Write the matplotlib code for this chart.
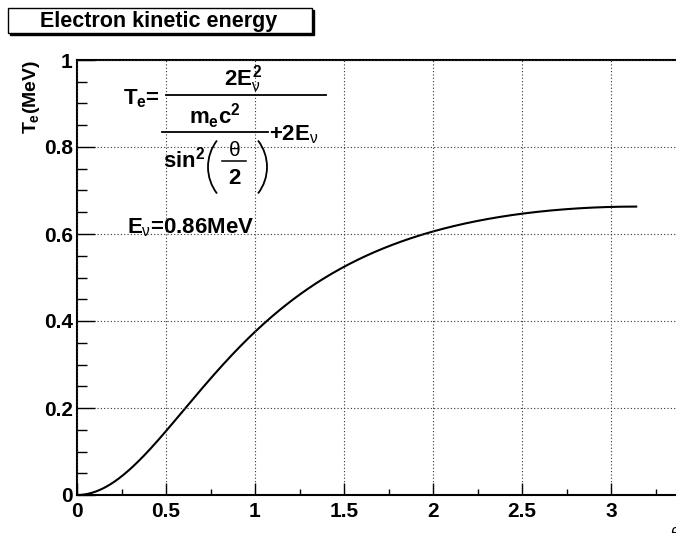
import numpy as np
import matplotlib
matplotlib.use("Agg")
import matplotlib.pyplot as plt
from matplotlib.patches import Rectangle, Arc
from matplotlib.lines import Line2D
from matplotlib.transforms import Affine2D

# Parameters of the curve T_e(theta) for neutrino-electron scattering
E_nu = 0.86          # neutrino energy, MeV
me_c2 = 0.511        # electron rest energy, MeV
theta = np.linspace(0.0, np.pi, 600)
T_e = 2 * E_nu**2 / (me_c2 / np.sin(theta / 2) ** 2 + 2 * E_nu)

x_ticks = [0, 0.5, 1, 1.5, 2, 2.5, 3]
x_tick_labels = ["0", "0.5", "1", "1.5", "2", "2.5", "3"]
y_ticks = [0, 0.2, 0.4, 0.6, 0.8, 1]
y_tick_labels = ["0", "0.2", "0.4", "0.6", "0.8", "1"]

title_text = "Electron kinetic energy"
energy_text = r"$E_{\mathsf{\nu}}$=0.86MeV"

W, H = 676, 533
plt.rcParams["font.family"] = ["Liberation Sans", "DejaVu Sans"]
plt.rcParams["font.weight"] = "bold"
plt.rcParams["mathtext.fontset"] = "custom"
plt.rcParams["mathtext.rm"] = "Liberation Sans:bold"
plt.rcParams["mathtext.it"] = "Liberation Sans:bold"
plt.rcParams["mathtext.bf"] = "Liberation Sans:bold"
plt.rcParams["mathtext.sf"] = "Liberation Sans:normal"

fig = plt.figure(figsize=(W / 100, H / 100), dpi=100)
fig.patch.set_facecolor("white")

# pixel coordinates with origin at the top-left corner
px = Affine2D().scale(1, -1).translate(0, H).scale(1 / W, 1 / H) + fig.transFigure

x0, y0, y1 = 77, 495, 60
ax = fig.add_axes([x0 / W, (H - y0) / H, 1 - x0 / W, (y0 - y1) / H])
xmax = (W - x0) / 178.0
ax.set_xlim(0, xmax)
ax.set_ylim(0, 1)

ax.plot(theta, T_e, color="black", lw=1.5)

ax.set_xticks(x_ticks)
ax.set_xticklabels(x_tick_labels)
ax.set_yticks(y_ticks)
ax.set_yticklabels(y_tick_labels)
ax.set_xticks(np.arange(0.25, xmax, 0.5), minor=True)
ax.set_yticks(np.arange(0.05, 1.0, 0.05), minor=True)

ax.tick_params(axis="both", which="both", direction="in", colors="black",
               labelsize=15)
ax.tick_params(axis="x", which="major", length=9, width=1, pad=5)
ax.tick_params(axis="x", which="minor", length=4.5, width=1)
ax.tick_params(axis="y", which="major", length=13, width=1, pad=3)
ax.tick_params(axis="y", which="minor", length=7, width=1)
for lab in ax.get_xticklabels() + ax.get_yticklabels():
    lab.set_fontweight("bold")

for s in ["left", "bottom", "top"]:
    ax.spines[s].set_linewidth(1.5)
ax.spines["right"].set_visible(False)

ax.grid(True, which="major", color="#333333", linestyle=(0, (1, 2)), lw=0.8)
ax.set_axisbelow(False)

ax.set_ylabel(r"$T_e$(MeV)", fontsize=14, fontweight="bold")
ax.yaxis.set_label_coords(-0.058, 1.0)
ax.yaxis.label.set_horizontalalignment("right")

# x-axis title at the lower-right corner, mostly outside the canvas
fig.text(670 / W, 1 - 534 / H, r"$\mathsf{\theta}$", fontsize=12, va="center")

# title box with drop shadow
fig.add_artist(Rectangle((10, 10), 304, 25, transform=px, facecolor="black",
                         edgecolor="black", lw=1))
fig.add_artist(Rectangle((8, 8), 304, 25, transform=px, facecolor="white",
                         edgecolor="black", lw=1))
fig.text(159 / W, 1 - 21 / H, title_text, fontsize=15.5, fontweight="bold",
         ha="center", va="center")

# formula: T_e = 2E^2 / (m_e c^2 / sin^2(theta/2) + 2E)
FS = 16

def ptext(x, y, s, size=FS, ha="center", va="center", **kw):
    fig.text(x / W, 1 - y / H, s, fontsize=size, ha=ha, va=va,
             fontweight="bold", **kw)

def pline(xa, xb, y, lw=1.3):
    fig.add_artist(Line2D([xa, xb], [y, y], transform=px, color="black", lw=lw))

ptext(123, 99, r"$T_e$=", ha="left")
pline(166, 326, 95)
ptext(243, 79, r"2$E_{\mathsf{\nu}}^2$")
ptext(215, 116, r"$m_e$c$^2$")
pline(162, 268, 132)
ptext(269, 135, r"+2$E_{\mathsf{\nu}}$", ha="left")
ptext(184, 160, r"sin$^2$")
ptext(234, 151, r"$\mathsf{\theta}$", size=15)
pline(222, 246, 161, lw=1.1)
ptext(234, 179, "2")

R = 43.5
half = np.degrees(np.arcsin(26.5 / R))
fig.add_artist(Arc((208 + R, 167), 2 * R, 2 * R, theta1=180 - half,
                   theta2=180 + half, transform=px, color="black", lw=1.3))
fig.add_artist(Arc((267 - R, 167), 2 * R, 2 * R, theta1=-half,
                   theta2=half, transform=px, color="black", lw=1.3))

ptext(127, 228, energy_text, ha="left")

fig.savefig("out.png", dpi=100)
